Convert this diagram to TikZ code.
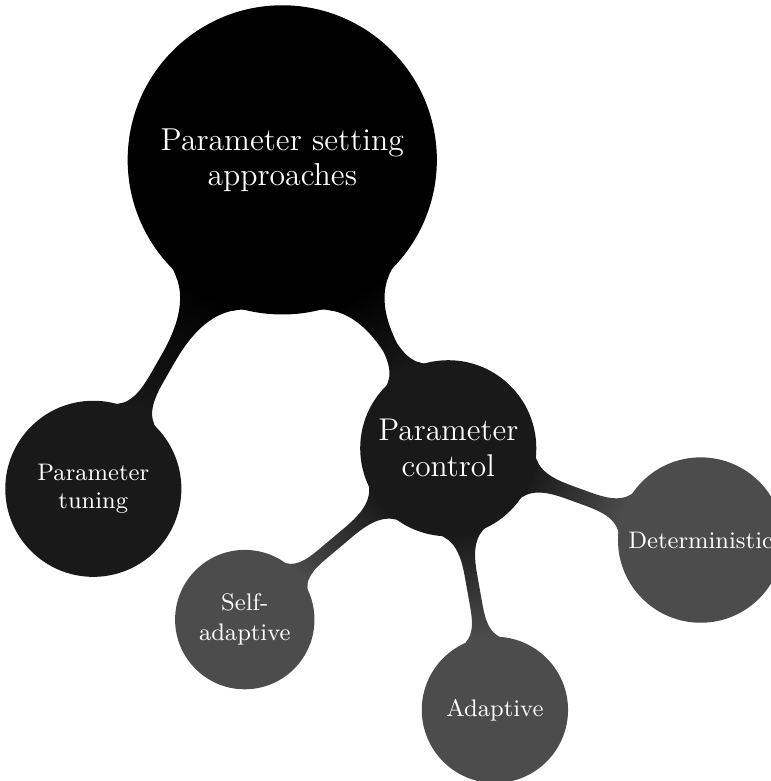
\documentclass[tikz,border=0pt]{standalone}
\usepackage{fontspec}
\usetikzlibrary{mindmap,backgrounds}
\tikzset{
  rootc/.style={concept color=black,concept,minimum size=4cm,text width={},align=center,
    text=white,font=\fontsize{11.8}{13}\selectfont},
  lvone/.style={concept color=black!90,concept,minimum size=2.26cm,text width={},align=center,text=white},
  lvtwo/.style={concept color=black!70,concept,minimum size=1.78cm,text width={},align=center,
    text=white,font=\fontsize{8.9}{11.2}\selectfont},
}
\begin{document}
\begin{tikzpicture}[mindmap]
  \useasboundingbox (0,0) rectangle (10.07,-10.21);
  % ---- root ----
  \node[rootc] (root) at (3.69,-2.09) {Parameter setting\\approaches};
  % ---- first level ----
  \node[lvone,font=\fontsize{8.9}{10.6}\selectfont] (tuning) at (1.22,-6.39) {Parameter\\tuning};
  \node[lvone,font=\fontsize{11.7}{13.4}\selectfont] (control) at (5.86,-5.86) {Parameter\\control};
  % ---- second level, under parameter control ----
  \node[lvtwo] (selfad) at (3.20,-8.10) {Self-\\adaptive};
  \node[lvtwo,minimum size=1.87cm] (adapt) at (6.47,-9.28) {Adaptive};
  \node[lvtwo,minimum size=2.12cm] (determ) at (9.16,-7.06) {Deterministic};
  % connection bars, kept behind the concepts
  \begin{scope}[on background layer]
    \path (root) to[circle connection bar switch color=from (black) to (black!90)] (tuning);
    \path (root) to[circle connection bar switch color=from (black) to (black!90)] (control);
    \path (control) to[circle connection bar switch color=from (black!90) to (black!70)] (selfad);
    \path (control) to[circle connection bar switch color=from (black!90) to (black!70)] (adapt);
    \path (control) to[circle connection bar switch color=from (black!90) to (black!70)] (determ);
  \end{scope}
\end{tikzpicture}
\end{document}
